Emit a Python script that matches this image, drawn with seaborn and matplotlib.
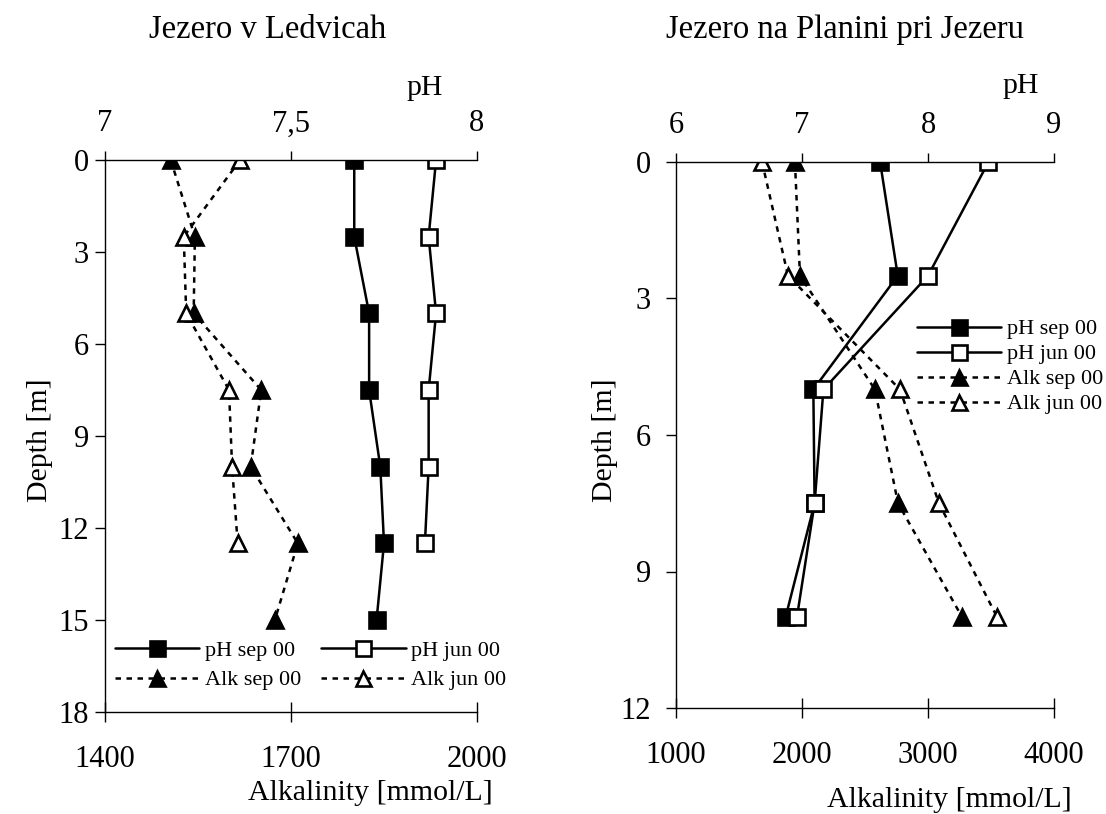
import matplotlib
matplotlib.use("Agg")
import matplotlib.pyplot as plt
import seaborn as sns

sns.set_theme(style="white")
plt.rcParams['font.family'] = ['Liberation Serif', 'DejaVu Serif']
plt.rcParams.update({
    'text.color': 'black', 'axes.labelcolor': 'black',
    'xtick.color': 'black', 'ytick.color': 'black',
    'axes.edgecolor': 'black', 'axes.linewidth': 1.0,
})

# ---- Data: Jezero v Ledvicah ----
depth_L = [0, 2.5, 5, 7.5, 10, 12.5, 15]
ph_sep_L = [7.67, 7.67, 7.71, 7.71, 7.74, 7.75, 7.73]
depth_L_jun = [0, 2.5, 5, 7.5, 10, 12.5]
ph_jun_L = [7.89, 7.87, 7.89, 7.87, 7.87, 7.86]
alk_sep_L = [1506, 1545, 1543, 1652, 1635, 1711, 1674]
alk_jun_L = [1618, 1527, 1531, 1600, 1605, 1614]

# ---- Data: Jezero na Planini pri Jezeru ----
depth_R = [0, 2.5, 5, 7.5, 10]
ph_sep_R = [7.62, 7.76, 7.09, 7.10, 6.87]
ph_jun_R = [8.48, 8.00, 7.17, 7.10, 6.96]
alk_sep_R = [1944, 1984, 2579, 2762, 3270]
alk_jun_R = [1683, 1889, 2778, 3087, 3548]

ph_ticks_L = [7, 7.5, 8]
ph_ticklabels_L = ["7", "7,5", "8"]
alk_ticks_L = [1400, 1700, 2000]
depth_ticks_L = [0, 3, 6, 9, 12, 15, 18]

ph_ticks_R = [6, 7, 8, 9]
ph_ticklabels_R = ["6", "7", "8", "9"]
alk_ticks_R = [1000, 2000, 3000, 4000]
depth_ticks_R = [0, 3, 6, 9, 12]

labels = ["pH sep 00", "pH jun 00", "Alk sep 00", "Alk jun 00"]

W, H = 1106, 814
fig = plt.figure(figsize=(W / 100, H / 100), dpi=100)

TICK_FS = 22
LAB_FS = 21.5
TITLE_FS = 23.5
LEG_FS = 16
DASH = (0, (2.2, 2.2))


def draw_series(ax, x, y, marker, filled, dashed, label):
    sns.lineplot(x=x, y=y, sort=False, estimator=None, ax=ax, legend=False,
                 color='black', linewidth=1.8,
                 linestyle=DASH if dashed else '-',
                 marker=marker, markersize=12,
                 markerfacecolor='black' if filled else 'white',
                 markeredgecolor='black', markeredgewidth=1.9,
                 label=label)
    line = ax.lines[-1]
    return line


def panel(box, depth_sep, depth_jun, ph_sep, ph_jun, alk_sep, alk_jun,
          ph_lim, ph_ticks, ph_ticklabels, alk_lim, alk_ticks,
          depth_lim, depth_ticks, ypad, title, title_xy, ph_xy, alk_xy, dep_xy):
    ax = fig.add_axes(box)
    ax2 = ax.twiny()
    h_as = draw_series(ax, alk_sep, depth_sep, '^', True, True, labels[2])
    h_aj = draw_series(ax, alk_jun, depth_jun, '^', False, True, labels[3])
    h_ps = draw_series(ax2, ph_sep, depth_sep, 's', True, False, labels[0])
    h_pj = draw_series(ax2, ph_jun, depth_jun, 's', False, False, labels[1])

    ax.set_xlim(*alk_lim)
    ax2.set_xlim(*ph_lim)
    ax.set_ylim(depth_lim, 0)
    ax.set_xticks(alk_ticks)
    ax.set_xticklabels([str(t) for t in alk_ticks])
    ax2.set_xticks(ph_ticks)
    ax2.set_xticklabels(ph_ticklabels)
    ax.set_yticks(depth_ticks)
    ax.set_yticklabels([str(t) for t in depth_ticks])

    for s in ['top', 'right']:
        ax.spines[s].set_visible(False)
    for s in ['left', 'right', 'bottom']:
        ax2.spines[s].set_visible(False)
    ax.grid(False)
    ax2.grid(False)

    ax.tick_params(axis='x', direction='inout', length=14, width=1,
                   pad=16.5, labelsize=TICK_FS, bottom=True, top=False)
    ax.tick_params(axis='y', direction='out', length=7, width=1,
                   pad=ypad, labelsize=TICK_FS, left=True, right=False)
    ax2.tick_params(axis='x', direction='out', length=6.5, width=1,
                    pad=9, labelsize=TICK_FS, top=True, bottom=False)
    ax2.tick_params(axis='y', left=False, right=False,
                    labelleft=False, labelright=False)

    ax.set_title(title, fontsize=TITLE_FS, x=title_xy[0], y=title_xy[1],
                 va='center', pad=0)
    ax2.set_xlabel("pH", fontsize=LAB_FS)
    ax2.xaxis.set_label_coords(*ph_xy)
    ax2.xaxis.label.set_va('center')
    ax.set_xlabel("Alkalinity [mmol/L]", fontsize=LAB_FS)
    ax.xaxis.set_label_coords(*alk_xy)
    ax.xaxis.label.set_va('center')
    ax.set_ylabel("Depth [m]", fontsize=LAB_FS)
    ax.yaxis.set_label_coords(*dep_xy)
    ax.yaxis.label.set_va('center')
    return ax, ax2, h_ps, h_pj, h_as, h_aj


# Left panel geometry (pixels): x 105-477, y 160-712
boxL = [105 / W, 1 - 712 / H, 372 / W, 552 / H]
axL, axL2, ps, pj, as_, aj = panel(
    boxL, depth_L, depth_L_jun, ph_sep_L, ph_jun_L, alk_sep_L, alk_jun_L,
    (7, 8), ph_ticks_L, ph_ticklabels_L, (1400, 2000), alk_ticks_L,
    18, depth_ticks_L, 4.5, "Jezero v Ledvicah",
    ((268 - 105) / 372, (712 - 30) / 552),
    ((425 - 105) / 372, (712 - 88) / 552),
    ((370 - 105) / 372, (712 - 793) / 552),
    ((40 - 105) / 372, (712 - 440) / 552))

fig.legend([ps, as_, pj, aj],
           [labels[0], labels[2], labels[1], labels[3]],
           loc='center left', bbox_to_anchor=(115 / W, 1 - 665.5 / H),
           ncol=2, frameon=False, fontsize=LEG_FS, handlelength=3.8,
           handletextpad=0.25, columnspacing=0.9, borderpad=0,
           borderaxespad=0, labelspacing=0.4, numpoints=1, markerscale=0.9)

# Right panel geometry (pixels): x 676-1054, y 162-708
boxR = [676 / W, 1 - 708 / H, 378 / W, 546 / H]
axR, axR2, ps, pj, as_, aj = panel(
    boxR, depth_R, depth_R, ph_sep_R, ph_jun_R, alk_sep_R, alk_jun_R,
    (6, 9), ph_ticks_R, ph_ticklabels_R, (1000, 4000), alk_ticks_R,
    12, depth_ticks_R, 11, "Jezero na Planini pri Jezeru",
    ((845 - 676) / 378, (708 - 30) / 546),
    ((1021 - 676) / 378, (708 - 86) / 546),
    ((949 - 676) / 378, (708 - 800) / 546),
    ((605 - 676) / 378, (708 - 440) / 546))

fig.legend([ps, pj, as_, aj], labels,
           loc='center left', bbox_to_anchor=(917 / W, 1 - 366.5 / H),
           ncol=1, frameon=False, fontsize=LEG_FS, handlelength=3.8,
           handletextpad=0.25, borderpad=0, borderaxespad=0,
           labelspacing=0.2, numpoints=1, markerscale=0.9)

fig.savefig("out.png", dpi=100, facecolor='white')
